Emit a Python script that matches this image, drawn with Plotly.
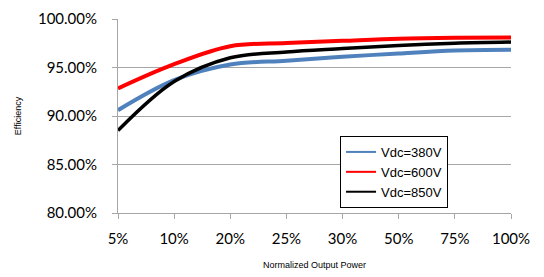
import plotly.graph_objects as go

categories = ["5%", "10%", "20%", "25%", "30%", "50%", "75%", "100%"]
vdc380 = [0.906, 0.937, 0.953, 0.957, 0.961, 0.9645, 0.9675, 0.9683]
vdc600 = [0.9285, 0.9535, 0.972, 0.9752, 0.9775, 0.9797, 0.9807, 0.981]
vdc850 = [0.885, 0.9355, 0.960, 0.966, 0.9695, 0.9728, 0.975, 0.9762]
series_names = ["Vdc=380V", "Vdc=600V", "Vdc=850V"]
colors = ["#4F81BD", "#FF0000", "#000000"]
widths = [4, 4, 3.5]

fig = go.Figure()
for name, vals, c, w in zip(series_names, [vdc380, vdc600, vdc850], colors, widths):
    fig.add_trace(go.Scatter(x=categories, y=vals, name=name, mode="lines", showlegend=False,
                             line=dict(color=c, width=w, shape="spline", smoothing=1.0)))
for name, c in zip(series_names, colors):
    fig.add_trace(go.Scatter(x=[None], y=[None], name=name, mode="lines",
                             line=dict(color=c, width=2)))

grid = "#A6A6A6"
# page body adds an 8px offset, margins compensate for it
fig.update_layout(
    width=544, height=277,
    margin=dict(l=110, r=41, t=11, b=72),
    paper_bgcolor="white", plot_bgcolor="white",
    showlegend=True,
    legend=dict(x=0.565, y=0.397, xanchor="left", yanchor="top",
                bordercolor="black", borderwidth=1, bgcolor="white",
                font=dict(family="Liberation Sans, Arial", size=13, color="black"),
                itemwidth=30, tracegroupgap=0),
    font=dict(family="Lato, Calibri, sans-serif", color="black"),
)
fig.update_xaxes(
    type="category", range=[0, 7], automargin=False,
    showgrid=False, showline=True, linecolor=grid, linewidth=1,
    ticks="outside", ticklen=5, tickcolor=grid,
    tickfont=dict(family="Lato, Calibri, sans-serif", size=15, color="black"),
    ticklabelstandoff=7,
    title=dict(text="Normalized Output Power", standoff=15,
               font=dict(family="Liberation Sans, Arial", size=9, color="black")),
)
fig.update_yaxes(
    range=[0.80, 1.00], tickvals=[0.80, 0.85, 0.90, 0.95, 1.00], tickformat=".2%",
    automargin=False,
    showgrid=True, gridcolor=grid, gridwidth=1,
    showline=True, linecolor=grid, linewidth=1,
    ticks="outside", ticklen=5, tickcolor=grid,
    tickfont=dict(family="Lato, Calibri, sans-serif", size=15, color="black"),
    ticklabelstandoff=12, zeroline=False,
    title=dict(text="Efficiency", standoff=14,
               font=dict(family="Liberation Sans, Arial", size=9, color="black")),
)

fig.write_html("out.html")
